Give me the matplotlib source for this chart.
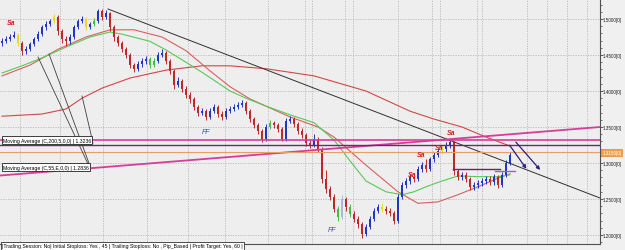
import matplotlib.pyplot as plt
from matplotlib.ticker import FixedLocator, MultipleLocator

plt.rcParams['font.family'] = ['Liberation Sans', 'DejaVu Sans']
narrow = ['Liberation Sans Narrow', 'Liberation Sans', 'DejaVu Sans']

# candles (price), open of each bar is the previous close
first_open = 1.466
closes = [1.469, 1.472, 1.475, 1.478, 1.467, 1.456, 1.458, 1.465, 1.472, 1.479,
          1.489, 1.493, 1.497, 1.503, 1.483, 1.472, 1.469, 1.475, 1.489, 1.497,
          1.500, 1.489, 1.493, 1.497, 1.511, 1.503, 1.508, 1.489, 1.475, 1.467,
          1.458, 1.450, 1.436, 1.431, 1.438, 1.442, 1.444, 1.436, 1.442, 1.450,
          1.453, 1.442, 1.428, 1.408, 1.414, 1.403, 1.394, 1.389, 1.378, 1.369,
          1.372, 1.364, 1.372, 1.378, 1.368, 1.364, 1.372, 1.375, 1.378, 1.381,
          1.383, 1.372, 1.361, 1.353, 1.344, 1.333, 1.350, 1.356, 1.353, 1.347,
          1.333, 1.358, 1.361, 1.354, 1.344, 1.339, 1.328, 1.325, 1.333, 1.319,
          1.278, 1.264, 1.253, 1.236, 1.225, 1.250, 1.239, 1.229, 1.222, 1.215,
          1.201, 1.211, 1.222, 1.233, 1.239, 1.236, 1.233, 1.231, 1.219, 1.253,
          1.269, 1.275, 1.281, 1.278, 1.292, 1.297, 1.292, 1.306, 1.311, 1.317,
          1.319, 1.325, 1.329, 1.289, 1.281, 1.283, 1.278, 1.267, 1.269, 1.272,
          1.275, 1.278, 1.274, 1.281, 1.269, 1.283, 1.300, 1.311]
highs = [1.473, 1.476, 1.479, 1.483, 1.481, 1.469, 1.462, 1.468, 1.475, 1.483,
         1.492, 1.497, 1.500, 1.507, 1.505, 1.486, 1.476, 1.479, 1.492, 1.500,
         1.504, 1.503, 1.496, 1.501, 1.514, 1.514, 1.512, 1.510, 1.492, 1.478,
         1.470, 1.461, 1.453, 1.439, 1.442, 1.446, 1.448, 1.447, 1.446, 1.454,
         1.458, 1.456, 1.445, 1.430, 1.419, 1.417, 1.407, 1.398, 1.392, 1.381,
         1.377, 1.375, 1.376, 1.382, 1.381, 1.372, 1.376, 1.379, 1.382, 1.385,
         1.388, 1.386, 1.375, 1.364, 1.356, 1.347, 1.354, 1.360, 1.359, 1.356,
         1.350, 1.362, 1.365, 1.364, 1.357, 1.348, 1.342, 1.332, 1.340, 1.336,
         1.322, 1.290, 1.268, 1.257, 1.240, 1.256, 1.253, 1.243, 1.233, 1.226,
         1.218, 1.215, 1.226, 1.237, 1.243, 1.244, 1.240, 1.237, 1.234, 1.257,
         1.273, 1.279, 1.285, 1.286, 1.296, 1.301, 1.306, 1.309, 1.315, 1.321,
         1.323, 1.329, 1.335, 1.331, 1.292, 1.287, 1.287, 1.281, 1.273, 1.276,
         1.279, 1.282, 1.282, 1.285, 1.284, 1.287, 1.304, 1.315]
lows = [1.463, 1.466, 1.470, 1.473, 1.462, 1.450, 1.452, 1.455, 1.462, 1.470,
        1.476, 1.485, 1.490, 1.494, 1.478, 1.466, 1.463, 1.465, 1.472, 1.486,
        1.494, 1.485, 1.486, 1.490, 1.494, 1.499, 1.500, 1.484, 1.470, 1.463,
        1.454, 1.446, 1.432, 1.426, 1.428, 1.434, 1.438, 1.432, 1.433, 1.439,
        1.447, 1.438, 1.424, 1.403, 1.405, 1.399, 1.390, 1.384, 1.374, 1.365,
        1.366, 1.360, 1.361, 1.369, 1.364, 1.360, 1.361, 1.369, 1.372, 1.375,
        1.378, 1.368, 1.357, 1.349, 1.340, 1.329, 1.330, 1.347, 1.349, 1.343,
        1.330, 1.331, 1.355, 1.350, 1.340, 1.335, 1.324, 1.321, 1.322, 1.315,
        1.272, 1.259, 1.248, 1.232, 1.220, 1.222, 1.234, 1.225, 1.218, 1.210,
        1.196, 1.198, 1.208, 1.219, 1.230, 1.232, 1.229, 1.227, 1.215, 1.217,
        1.250, 1.265, 1.271, 1.274, 1.275, 1.288, 1.288, 1.289, 1.302, 1.308,
        1.313, 1.315, 1.321, 1.284, 1.276, 1.277, 1.274, 1.263, 1.263, 1.265,
        1.268, 1.271, 1.270, 1.270, 1.265, 1.266, 1.280, 1.297]
yellow_bars = [4, 13, 21, 95, 110]
green_bars = [23, 37, 38, 67, 84, 87]
pale_bars = [85]

# moving averages (bar index, price)
ema55_idx = [0, 5, 10, 16, 22, 27, 30, 37, 41, 46, 50, 53, 57, 61, 66, 72, 78, 83,
             87, 91, 96, 100, 103, 106, 110, 114, 119, 124, 127]
ema55_val = [1.425, 1.435, 1.446, 1.461, 1.475, 1.482, 1.479, 1.469, 1.457, 1.440,
             1.426, 1.415, 1.400, 1.390, 1.379, 1.367, 1.356, 1.332, 1.303, 1.275,
             1.260, 1.256, 1.260, 1.267, 1.275, 1.282, 1.281, 1.281, 1.2836]
ma200_idx = [0, 10, 16, 20, 25, 32, 41, 50, 57, 66, 78, 91, 102, 108, 115, 121, 127]
ma200_val = [1.365, 1.368, 1.375, 1.390, 1.404, 1.418, 1.429, 1.435, 1.435, 1.431,
             1.421, 1.400, 1.372, 1.361, 1.350, 1.336, 1.3236]
mamid_idx = [0, 7, 14, 21, 27, 33, 40, 46, 52, 57, 62, 72, 79, 83, 91, 99, 104, 109,
             114, 119, 124, 127]
mamid_val = [1.421, 1.436, 1.458, 1.475, 1.485, 1.485, 1.475, 1.456, 1.428, 1.406,
             1.389, 1.364, 1.350, 1.336, 1.297, 1.260, 1.244, 1.246, 1.256, 1.267,
             1.279, 1.285]

# drawn objects (bar index, price)
trend_x, trend_y = [26.5, 149.5], [1.5139, 1.2514]
pink_diag_x, pink_diag_y = [-0.5, 149.5], [1.2826, 1.3500]
pink_level = 1.332
purple_level = 1.325
orange_level = 1.315
box_top = [112.75, 124.5, 1.2917]
box_low = [123.25, 128.25, 1.2889]
arrows = [(126.5, 1.3278, 131.5, 1.2889), (128.0, 1.3320, 135.0, 1.2875)]
connectors = [(9.0, 1.4472, 21.75, 1.2958), (11.75, 1.4514, 22.0, 1.2958),
              (20.0, 1.3931, 22.75, 1.3278)]
sell_icons = [(2.25, 1.4958), (102.5, 1.2847), (104.75, 1.3125), (109.25, 1.3222),
              (112.25, 1.3417)]
ff_icons = [(51.0, 1.3444), (82.5, 1.2083)]
vgrid = [4.5, 14.5, 25.25, 36.25, 46.5, 55.75, 66.5, 75.75, 77.5, 85.75, 87.75, 99,
         107.5, 109.5, 118.75, 120, 131.25, 136.25, 141.25, 146.25]
price_ticks = [1.20, 1.25, 1.30, 1.35, 1.40, 1.45, 1.50]

fig = plt.figure(figsize=(6.25, 2.51), dpi=100, facecolor='#f0f0f0')
ax = fig.add_axes([0, 6 / 251, 600 / 625, 245 / 251])
ax.set_facecolor('#eeeeee')
ax.set_xlim(-0.5, 149.5)
ax.set_ylim(1.1875, 1.5278)

for v in vgrid:
    ax.axvline(v, color='#b8b8b8', lw=0.6, ls=(0, (1.5, 1.5)), zorder=0)
for p in price_ticks:
    ax.axhline(p, color='#b8b8b8', lw=0.6, ls=(0, (1.5, 1.5)), zorder=0)

# moving averages
ax.plot(ma200_idx, ma200_val, color='#d04848', lw=0.8, zorder=2)
ax.plot(mamid_idx, mamid_val, color='#d86060', lw=0.8, zorder=2)
ax.plot(ema55_idx, ema55_val, color='#58c858', lw=0.8, zorder=2)

# candles
opens = [first_open] + closes[:-1]
for i in range(len(closes)):
    o, c = opens[i], closes[i]
    col = '#2038c0' if c >= o else '#c02828'
    if i in yellow_bars:
        col = '#e8d828'
    elif i in green_bars:
        col = '#40c040'
    elif i in pale_bars:
        col = '#a8b8e0'
    ax.vlines(i, lows[i], highs[i], color=col, lw=0.7, zorder=3)
    ax.bar(i, c - o, bottom=o, width=0.55, color=col, zorder=3)

# trend lines and levels
ax.plot(trend_x, trend_y, color='#303030', lw=0.7, zorder=4)
ax.plot(pink_diag_x, pink_diag_y, color='#d83c98', lw=1.3, zorder=4)
ax.axhline(pink_level, color='#d83c98', lw=1.2, zorder=4)
ax.axhline(purple_level, color='#6a2878', lw=1.0, zorder=4)
ax.axhline(orange_level, color='#e8a060', lw=0.8, zorder=4)
ax.plot(box_top[:2], [box_top[2]] * 2, color='#5a2a6a', lw=1.0, zorder=4)
ax.plot(box_low[:2], [box_low[2]] * 2, color='#a060b0', lw=1.0, zorder=4)
for x0, y0, x1, y1 in arrows:
    ax.annotate('', xy=(x1, y1), xytext=(x0, y0),
                arrowprops=dict(arrowstyle='-|>', color='#2a2080', lw=0.9,
                                mutation_scale=5), zorder=5)
for x0, y0, x1, y1 in connectors:
    ax.plot([x0, x1], [y0, y1], color='#404040', lw=0.6, zorder=4)

for x, y in sell_icons:
    ax.text(x, y, 'Sa', color='#d02020', fontsize=5, fontweight='bold',
            fontstyle='italic', ha='center', va='center', zorder=6)
for x, y in ff_icons:
    ax.text(x, y, 'FF', color='#3050d0', fontsize=5, fontstyle='italic',
            ha='center', va='center', zorder=6)

# MA labels
ax.text(0.2, 1.3319, 'Moving Average (C,200,5,0,0) | 1.3236', fontsize=3.7,
        va='center', ha='left', zorder=7,
        bbox=dict(boxstyle='square,pad=0.25', fc='white', ec='#202020', lw=0.6))
ax.text(0.2, 1.2944, 'Moving Average (C,55,E,0,0) | 1.2836', fontsize=3.7,
        va='center', ha='left', zorder=7,
        bbox=dict(boxstyle='square,pad=0.25', fc='white', ec='#202020', lw=0.6))

# right price axis
ax.yaxis.tick_right()
ax.yaxis.set_major_locator(FixedLocator(price_ticks))
ax.yaxis.set_minor_locator(MultipleLocator(0.01))
ax.set_yticklabels(['%.4f[0]' % p for p in price_ticks], fontsize=3.3,
                   color='#202020', family=narrow)
ax.tick_params(axis='y', which='major', length=1.8, width=0.6, pad=0.4, color='#404040')
ax.tick_params(axis='y', which='minor', length=1.2, width=0.5, color='#404040')
ax.set_xticks([])
for s in ['top', 'left']:
    ax.spines[s].set_visible(False)
ax.spines['right'].set_color('#505050')
ax.spines['bottom'].set_color('#505050')
ax.text(1.004, orange_level, '1.3150[0]', transform=ax.get_yaxis_transform(),
        fontsize=3.3, family=narrow, color='white', va='center', ha='left',
        zorder=8, clip_on=False,
        bbox=dict(boxstyle='square,pad=0.2', fc='#f0a048', ec='#e08830', lw=0.5))

fig.text(2 / 625, 4 / 251,
         '|Trading Session: No| Initial Stoploss: Yes , 45 | Trailing Stoploss: No , '
         'Pip_Based | Profit Target: Yes, 60 |',
         fontsize=3.7, va='center', ha='left',
         bbox=dict(boxstyle='square,pad=0.2', fc='white', ec='#303030', lw=0.6))

fig.savefig('out.png', dpi=100, facecolor=fig.get_facecolor())
